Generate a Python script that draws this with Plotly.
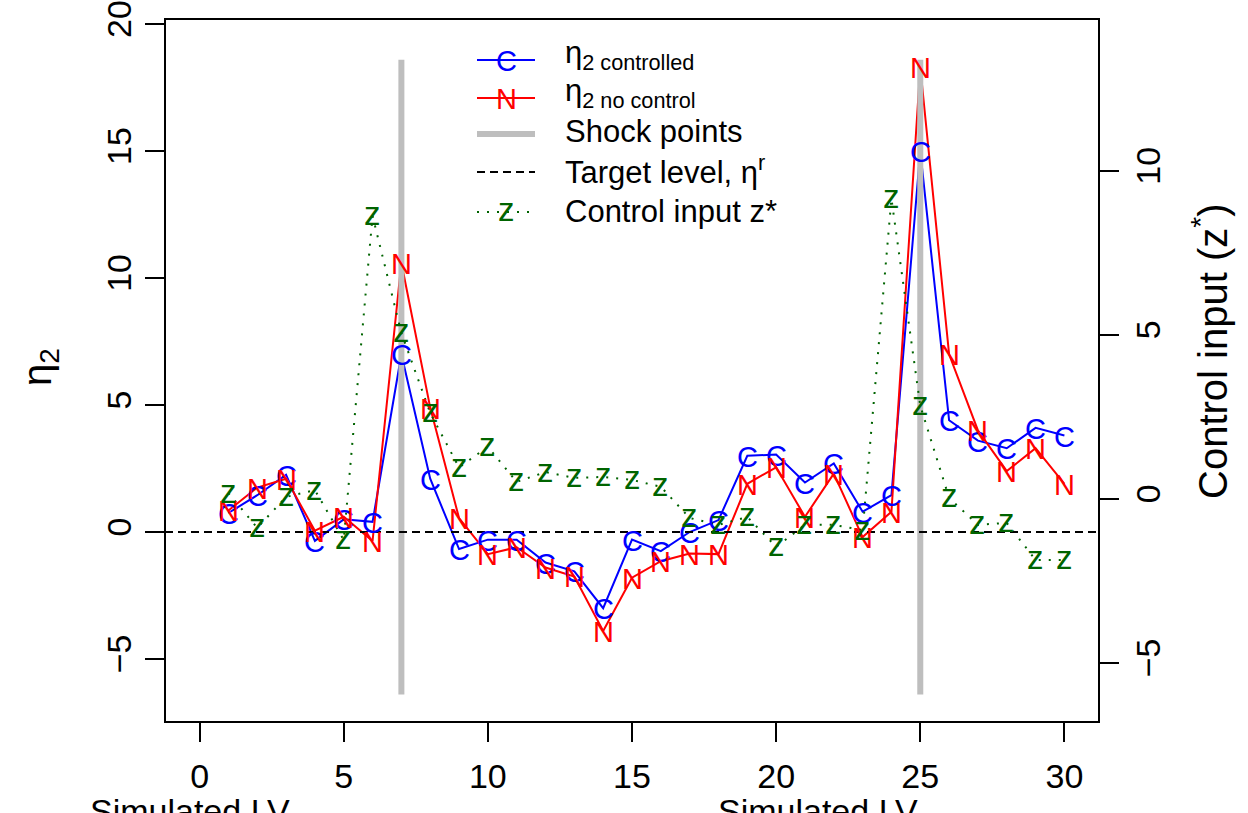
import plotly.graph_objects as go

# Simulation steps and series
steps = list(range(1, 31))
eta2_controlled = [0.75, 1.45, 2.25, -0.35, 0.5, 0.4, 7.0, 2.1, -0.67, -0.3,
                   -0.3, -1.2, -1.55, -3.0, -0.3, -0.75, 0.0, 0.47, 3.0, 3.05,
                   1.95, 2.7, 0.8, 1.45, 15.0, 4.4, 3.6, 3.3, 4.1, 3.8]
eta2_no_control = [0.85, 1.75, 2.1, 0.05, 0.6, -0.35, 10.6, 4.9, 0.55, -0.87,
                   -0.6, -1.4, -1.75, -3.9, -1.8, -1.15, -0.85, -0.87, 1.9, 2.55,
                   0.6, 2.3, -0.2, 0.8, 18.3, 7.0, 4.0, 2.4, 3.3, 1.9]
control_z = [0.18, -0.88, 0.06, 0.27, -1.25, 8.63, 5.06, 2.62, 0.96, 1.59,
             0.52, 0.82, 0.64, 0.67, 0.58, 0.37, -0.58, -0.79, -0.55, -1.46,
             -0.79, -0.79, -0.95, 9.15, 2.84, 0.03, -0.79, -0.73, -1.86, -1.86]

shock_steps = [7, 25]
shock_span = [-6.4, 18.6]
target_level = 0

x_ticks = [0, 5, 10, 15, 20, 25, 30]
y_ticks = [-5, 0, 5, 10, 15, 20]
z_ticks = [-5, 0, 5, 10]

FONT = "Liberation Sans, Arial, Helvetica, sans-serif"
BLUE = "#0000FF"
RED = "#FF0000"
GREEN = "#006400"
GREY = "#BEBEBE"

fig = go.Figure()

fig.add_trace(go.Scatter(x=steps, y=eta2_controlled, mode="lines",
                         line=dict(color=BLUE, width=2), showlegend=False))
fig.add_trace(go.Scatter(x=steps, y=eta2_no_control, mode="lines",
                         line=dict(color=RED, width=2), showlegend=False))
for s in shock_steps:
    fig.add_trace(go.Scatter(x=[s, s], y=shock_span, mode="lines",
                             line=dict(color=GREY, width=6), showlegend=False))
fig.add_trace(go.Scatter(x=steps, y=control_z, yaxis="y2", mode="lines",
                         line=dict(color=GREEN, width=2, dash="2px,8px"),
                         showlegend=False))


# letter symbols placed on each point (glyph centred on the value)
def add_glyphs(xs, ys, glyph, color, size, yref, shift):
    for xv, yv in zip(xs, ys):
        fig.add_annotation(x=xv, y=yv, xref="x", yref=yref, text=glyph,
                           showarrow=False, xanchor="center", yanchor="middle",
                           yshift=shift,
                           font=dict(family=FONT, size=size, color=color))


add_glyphs(steps, eta2_controlled, "C", BLUE, 29, "y", -1)
add_glyphs(steps, eta2_no_control, "N", RED, 29, "y", -1)
add_glyphs(steps, control_z, "z", GREEN, 33, "y2", 2)

# target level
fig.add_shape(type="line", xref="paper", x0=0, x1=1, yref="y", y0=target_level, y1=target_level,
              line=dict(color="black", width=2, dash="8px,5px"), layer="above")

# plot box
fig.add_shape(type="rect", xref="paper", yref="paper", x0=0, x1=1, y0=0, y1=1,
              line=dict(color="black", width=2), layer="above")

# ---- legend (drawn by hand to show letter symbols on the lines) ----
W, H, L, T = 934.0, 703.0, 165.0, 19.0


def px(xp):
    return (xp - L) / W


def py(yp):
    return 1 - (yp - T) / H


rows = [60, 98, 134, 172, 212]
label_shift = [5, 5, 2, 2, 0]
glyph_shift = [-1, -1, 0, 0, 2]
lx0, lx1, lxm, ltx = 477, 535, 506, 563
legend_specs = [
    dict(color=BLUE, width=2, dash="solid", glyph="C", size=29,
         label="\u03b7<sub>2 controlled</sub>"),
    dict(color=RED, width=2, dash="solid", glyph="N", size=29,
         label="\u03b7<sub>2 no control</sub>"),
    dict(color=GREY, width=6, dash="solid", glyph=None, size=29, label="Shock points"),
    dict(color="black", width=2, dash="8px,5px", glyph=None, size=29,
         label="Target level, \u03b7<sup>r</sup>"),
    dict(color=GREEN, width=2, dash="2px,8px", glyph="z", size=33,
         label="Control input z*"),
]
for r, sh, gs, spec in zip(rows, label_shift, glyph_shift, legend_specs):
    fig.add_shape(type="line", xref="paper", yref="paper",
                  x0=px(lx0), x1=px(lx1), y0=py(r), y1=py(r),
                  line=dict(color=spec["color"], width=spec["width"], dash=spec["dash"]))
    if spec["glyph"]:
        fig.add_annotation(xref="paper", yref="paper", x=px(lxm), y=py(r),
                           text=spec["glyph"], showarrow=False, xanchor="center",
                           yanchor="middle", yshift=gs,
                           font=dict(family=FONT, size=spec["size"], color=spec["color"]))
    fig.add_annotation(xref="paper", yref="paper", x=px(ltx), y=py(r - sh),
                       text=spec["label"], showarrow=False, xanchor="left",
                       yanchor="middle", font=dict(family=FONT, size=31, color="black"))

# axis titles
fig.add_annotation(xref="paper", yref="paper", x=px(40), y=py(367),
                   text="\u03b7<sub>2</sub>", textangle=-90, showarrow=False,
                   xanchor="center", yanchor="middle",
                   font=dict(family=FONT, size=40, color="black"))
fig.add_annotation(xref="paper", yref="paper", x=px(1210), y=py(352),
                   text="Control input (z<sup>*</sup>)", textangle=-90, showarrow=False,
                   xanchor="center", yanchor="middle",
                   font=dict(family=FONT, size=40, color="black"))

# lower panel captions
for xpos in (88, 716):
    fig.add_annotation(xref="paper", yref="paper", x=px(xpos), y=py(790),
                       text="Simulated LV", showarrow=False, xanchor="left",
                       yanchor="top", font=dict(family=FONT, size=34, color="black"))

axis_common = dict(showgrid=False, zeroline=False, showline=False, ticks="outside",
                   ticklen=19, tickwidth=2, tickcolor="black", automargin=False,
                   tickfont=dict(family=FONT, size=34, color="black"))

fig.update_layout(
    width=1248, height=813, autosize=False,
    margin=dict(l=165, r=149, t=19, b=91),
    paper_bgcolor="white", plot_bgcolor="white",
    showlegend=False,
    xaxis=dict(range=[-1.2, 31.2], tickvals=x_ticks, ticklabelstandoff=5, **axis_common),
    yaxis=dict(range=[-7.48, 20.2], tickvals=y_ticks, tickangle=-90, **axis_common),
    yaxis2=dict(range=[-6.8, 14.63], tickvals=z_ticks, tickangle=-90, overlaying="y",
                side="right", **axis_common),
)

fig.write_html("out.html")
